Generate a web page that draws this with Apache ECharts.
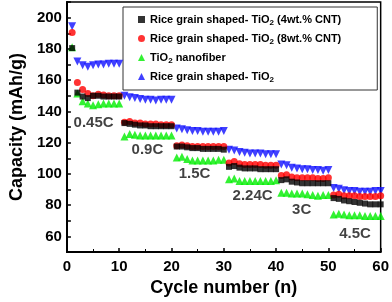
<!DOCTYPE html>
<html><head><meta charset="utf-8">
<script src="https://cdn.jsdelivr.net/npm/echarts@6/dist/echarts.min.js"></script>
<style>html,body{margin:0;padding:0;background:#fff}#c{width:392px;height:302px}</style>
</head><body><div id="c"></div>
<script>
const cycles = Array.from({length: 60}, (_, i) => i + 1);
const cnt4 = [180.5,152,149.5,148.5,150,150,149.5,149.5,149.5,149.5,
  132.5,132,131.5,131,131,130.5,130.5,130.5,130.5,130.5,
  117.5,117.5,117,116.5,116.5,116,116,116,116,115.5,
  104.5,105,104,103.5,103.5,103.5,103,103,103,103,
  96,96.5,95,94.5,94,94,94,94,94,94,
  84.5,84,83,82.5,82,81.5,81,80.5,80.5,80.5];
const cnt8 = [190.5,158.5,154,151.5,150,151,150.5,150,150,150,
  133,133.5,132.5,132.5,132,132,132,131.5,131.5,131.5,
  118,118.5,118,117.5,117.5,117.5,117.5,117.5,117.5,117.5,
  107,108,106.5,106,106,106,106,105.5,105.5,105.5,
  99,99.5,98,97.5,97.5,97.5,97.5,97,97,97.5,
  86.5,87,86,86,86,85.5,85.5,85.5,85.5,86];
const nanofiber = [181,151.5,146.5,145,144,144.5,145,145,145,145,
  124,125.5,125,124.5,124.5,124.5,124.5,124.5,124.5,124.5,
  110.5,111,109.5,108.5,108.5,108.5,108.5,108.5,109,109,
  96.5,97,95.5,95.5,95.5,95.5,95.5,95.5,95.5,96,
  88,88,87.5,87.5,87.5,87,86.5,86,86.5,86.5,
  74,74.5,74,73.5,73.5,73.5,73,73,73,73];
const riceTiO2 = [194.5,172,169.5,168.5,169.5,170,170,170.5,170.5,170.5,
  150,149,148.5,148,147.5,147.5,147,147.5,147.5,147.5,
  129,128.5,128,127.5,127.5,127,127,127,127,127.5,
  115.5,115,114,113.5,113,113,113,112.5,112.5,112.5,
  106,105.5,104,103.5,103,103,102.5,102.5,102,102.5,
  91,90.5,89.5,89,89,88.5,88.5,88.5,89,89];
const seriesNames = ['s4','s8','nf','rt'];
const legendLabels = ['Rice grain shaped- TiO{sub|2} (4wt.% CNT)','Rice grain shaped- TiO{sub|2} (8wt.% CNT)','TiO{sub|2} nanofiber','Rice grain shaped- TiO{sub|2}'];
const rateLabels = ['0.45C','0.9C','1.5C','2.24C','3C','4.5C'];
const rateX = [5.1,15.4,24.4,35.5,44.9,55.1];
const rateY = [132.4,115.6,100.2,85.9,77.2,61.8];
const yTicks = [60,80,100,120,140,160,180,200];
const xTicks = [0,10,20,30,40,50,60];

const FONT = '"Liberation Sans", Arial, sans-serif';
const zip = (arr) => cycles.map((c, i) => [c, arr[i]]);
const styles = [
  {color:'#000000', symbol:'rect', size:6, rot:0},
  {color:'#ff0000', symbol:'circle', size:7, rot:0},
  {color:'#00ee00', symbol:'triangle', size:8, rot:0},
  {color:'#1010ff', symbol:'triangle', size:8, rot:180}
];
const dataSets = [cnt4, cnt8, nanofiber, riceTiO2];
const series = dataSets.map((d, i) => ({
  name: seriesNames[i], type: 'scatter', data: zip(d),
  symbol: styles[i].symbol, symbolSize: styles[i].size, symbolRotate: styles[i].rot,
  itemStyle: {color: styles[i].color}, z: 10 - i
}));
series.push({
  type: 'scatter', symbolSize: 0, silent: true,
  data: rateLabels.map((t, i) => ({value: [rateX[i], rateY[i]], name: t})),
  label: {show: true, position: 'inside', formatter: p => p.name,
    fontFamily: FONT, fontWeight: 'bold', fontSize: 15, color: '#111'}
});
const chart = echarts.init(document.getElementById('c'), null, {renderer: 'canvas'});
chart.setOption({
  animation: false,
  backgroundColor: '#fff',
  grid: {left: 55, right: 8, top: 2, bottom: 41, show: true, borderColor: '#000', borderWidth: 1.5},
  legend: {
    orient: 'vertical', left: 123, top: 7, padding: [7, 36, 6, 15], itemGap: 6,
    borderColor: '#333', borderWidth: 1, itemWidth: 7, itemHeight: 7,
    data: seriesNames,
    formatter: n => legendLabels[seriesNames.indexOf(n)],
    textStyle: {fontFamily: FONT, fontWeight: 'bold', fontSize: 11, color: '#000',
      rich: {sub: {fontFamily: FONT, fontWeight: 'bold', fontSize: 8, padding: [7, 0, 0, 0]}}}
  },
  xAxis: {
    type: 'value', min: 0, max: 60, interval: 10,
    name: 'Cycle number (n)', nameLocation: 'middle', nameGap: 27,
    nameTextStyle: {fontFamily: FONT, fontWeight: 'bold', fontSize: 18, color: '#000'},
    axisLine: {lineStyle: {color: '#000', width: 2}},
    axisTick: {inside: true, length: 4, lineStyle: {color: '#000', width: 1.5}},
    minorTick: {show: true, splitNumber: 2, length: 3, lineStyle: {color: '#000'}},
    splitLine: {show: false},
    axisLabel: {fontFamily: FONT, fontWeight: 'bold', fontSize: 15, color: '#000', margin: 7,
      formatter: v => xTicks.includes(v) ? String(v) : ''}
  },
  yAxis: {
    type: 'value', min: 50, max: 210, interval: 10,
    name: 'Capacity (mAh/g)', nameLocation: 'middle', nameGap: 36,
    nameTextStyle: {fontFamily: FONT, fontWeight: 'bold', fontSize: 18, color: '#000'},
    axisLine: {show: true, lineStyle: {color: '#000', width: 2}},
    axisTick: {show: true, inside: true, length: 4, lineStyle: {color: '#000', width: 1.5}},
    splitLine: {show: false},
    axisLabel: {fontFamily: FONT, fontWeight: 'bold', fontSize: 15, color: '#000', margin: 5,
      formatter: v => yTicks.includes(v) ? String(v) : ''}
  },
  series: series
});
</script></body></html>
